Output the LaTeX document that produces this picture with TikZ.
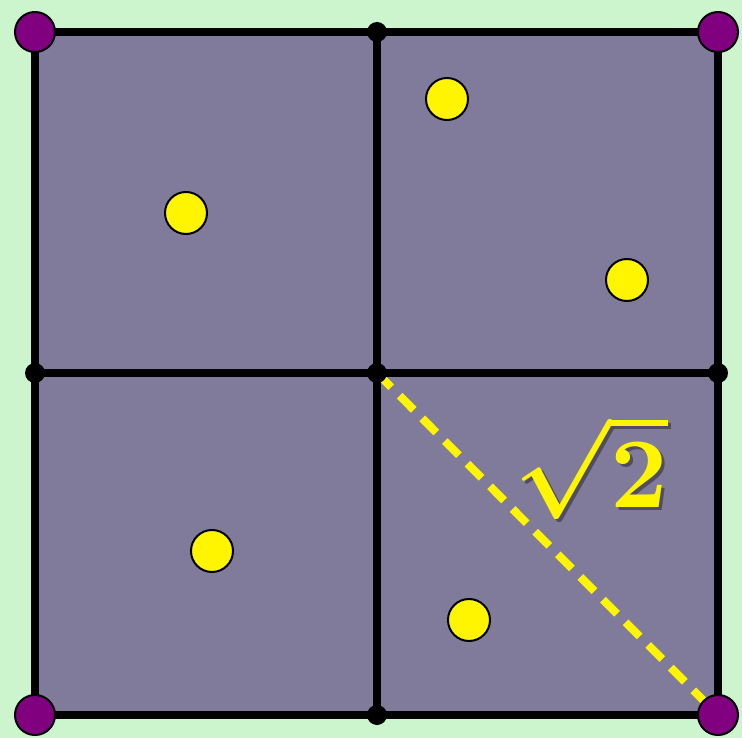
\documentclass[tikz,border=0pt]{standalone}
\usepackage{amsmath}
\usepackage{graphicx}
\newcommand{\rootlabel}{\scalebox{10}{\boldmath$\sqrt{2}$}}
\begin{document}
\begin{tikzpicture}[x=1pt,y=-1pt,
  gridline/.style={line width=8.5pt,black},
  corner/.style={circle,fill=cornerpurple,draw=black,line width=2pt,minimum size=40pt,inner sep=0pt},
  middot/.style={circle,fill=black,minimum size=20pt,inner sep=0pt},
  ydot/.style={circle,fill=dotyellow,draw=black,line width=2pt,minimum size=42pt,inner sep=0pt},
  diag/.style={line width=8pt,dotyellow,dash pattern=on 20pt off 12pt},
  biglabel/.style={inner sep=0pt}]
\definecolor{bggreen}{RGB}{204,245,206}
\definecolor{sqfill}{RGB}{128,123,155}
\definecolor{cornerpurple}{RGB}{128,0,128}
\definecolor{dotyellow}{RGB}{255,245,0}
\definecolor{shadowc}{RGB}{80,76,100}
\fill[bggreen] (0,0) rectangle (742,738);
\useasboundingbox (0,0) rectangle (742,738);
\coordinate (tl) at (35,32);
\coordinate (tr) at (718,32);
\coordinate (bl) at (35,715);
\coordinate (br) at (718,715);
\coordinate (tm) at (377,32);
\coordinate (bm) at (377,715);
\coordinate (lm) at (35,373);
\coordinate (rm) at (718,373);
\coordinate (cc) at (377,373);
\fill[sqfill] (tl) rectangle (br);
\draw[diag] (cc) -- (br);
\draw[gridline,line join=miter] (tl) rectangle (br);
\draw[gridline] (tm) -- (bm);
\draw[gridline] (lm) -- (rm);
\node[middot] (n1) at (tm) {};
\node[middot] (n2) at (bm) {};
\node[middot] (n3) at (lm) {};
\node[middot] (n4) at (rm) {};
\node[middot] (n5) at (cc) {};
\node[corner] (c1) at (tl) {};
\node[corner] (c2) at (tr) {};
\node[corner] (c3) at (bl) {};
\node[corner] (c4) at (br) {};
\node[ydot] (y1) at (186,213) {};
\node[ydot] (y2) at (447,99) {};
\node[ydot] (y3) at (627,280) {};
\node[ydot] (y4) at (212,551) {};
\node[ydot] (y5) at (469,620) {};
\node[biglabel,text=shadowc] (lblshadow) at (594,470) {\rootlabel};
\node[biglabel,text=dotyellow] (lbl) at (591,467) {\rootlabel};
\end{tikzpicture}
\end{document}
